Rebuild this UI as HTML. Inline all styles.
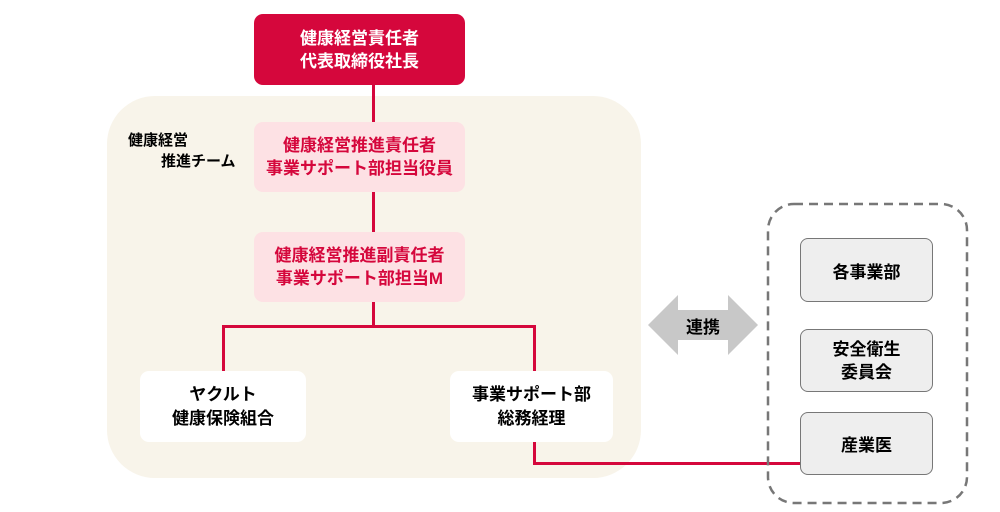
<!DOCTYPE html>
<html><head><meta charset="utf-8"><style>
body{margin:0;width:1000px;height:512px;background:#fff;position:relative;overflow:hidden;font-family:"Liberation Sans","Noto Sans CJK JP",sans-serif;font-weight:bold}
.a{position:absolute;box-sizing:border-box;display:flex;flex-direction:column;align-items:center;justify-content:center;text-align:center}
.l{position:absolute;background:#d5073c}
</style></head><body>
<div class="a" style="left:107px;top:96px;width:534px;height:382px;background:#f8f4ea;border-radius:48px"></div>
<div class="l" style="left:372px;top:84px;width:3px;height:218px"></div>
<div class="l" style="left:222px;top:325px;width:314px;height:3px"></div>
<div class="l" style="left:372px;top:300px;width:3px;height:27px"></div>
<div class="l" style="left:222px;top:325px;width:3px;height:48px"></div>
<div class="l" style="left:533px;top:325px;width:3px;height:48px"></div>
<div class="l" style="left:533px;top:440px;width:3px;height:25px"></div>
<div class="l" style="left:533px;top:462px;width:268px;height:3px"></div>
<div class="a" style="left:254px;top:14px;width:211px;height:71px;background:#d5073c;border-radius:9px;color:#fff;font-size:17px;line-height:23px">健康経営責任者<br>代表取締役社長</div>
<div class="a" style="left:254px;top:122px;width:211px;height:70px;background:#fde1e4;border-radius:9px;color:#d5073c;font-size:17px;line-height:23px">健康経営推進責任者<br>事業サポート部担当役員</div>
<div class="a" style="left:254px;top:232px;width:211px;height:70px;background:#fde1e4;border-radius:9px;color:#d5073c;font-size:17px;line-height:23px">健康経営推進副責任者<br>事業サポート部担当M</div>
<div style="position:absolute;left:128px;top:130px;font-size:15px;line-height:21px">健康経営<br><span style="margin-left:33px">推進チーム</span></div>
<div class="a" style="left:140px;top:371px;width:166px;height:71px;background:#fff;border-radius:9px;font-size:17px;line-height:24px">ヤクルト<br>健康保険組合</div>
<div class="a" style="left:450px;top:371px;width:163px;height:71px;background:#fff;border-radius:9px;font-size:17px;line-height:24px">事業サポート部<br>総務経理</div>
<svg style="position:absolute;left:0;top:0" width="1000" height="512">
<polygon points="648,325 678,295 678,310 728,310 728,295 758,325 728,355 728,340 678,340 678,355" fill="#c8c8c8"/>
<rect x="768" y="204" width="199" height="299" rx="26" fill="none" stroke="#777" stroke-width="2.5" stroke-dasharray="9,6"/>
</svg>
<div class="a" style="left:648px;top:312px;width:110px;height:26px;font-size:17px">連携</div>
<div class="a" style="left:800px;top:238px;width:133px;height:64px;background:#eee;border:1px solid #777;border-radius:8px;font-size:17px">各事業部</div>
<div class="a" style="left:800px;top:329px;width:133px;height:63px;background:#eee;border:1px solid #777;border-radius:8px;font-size:17px;line-height:23px">安全衛生<br>委員会</div>
<div class="a" style="left:800px;top:412px;width:133px;height:63px;background:#eee;border:1px solid #777;border-radius:8px;font-size:17px">産業医</div>
</body></html>
